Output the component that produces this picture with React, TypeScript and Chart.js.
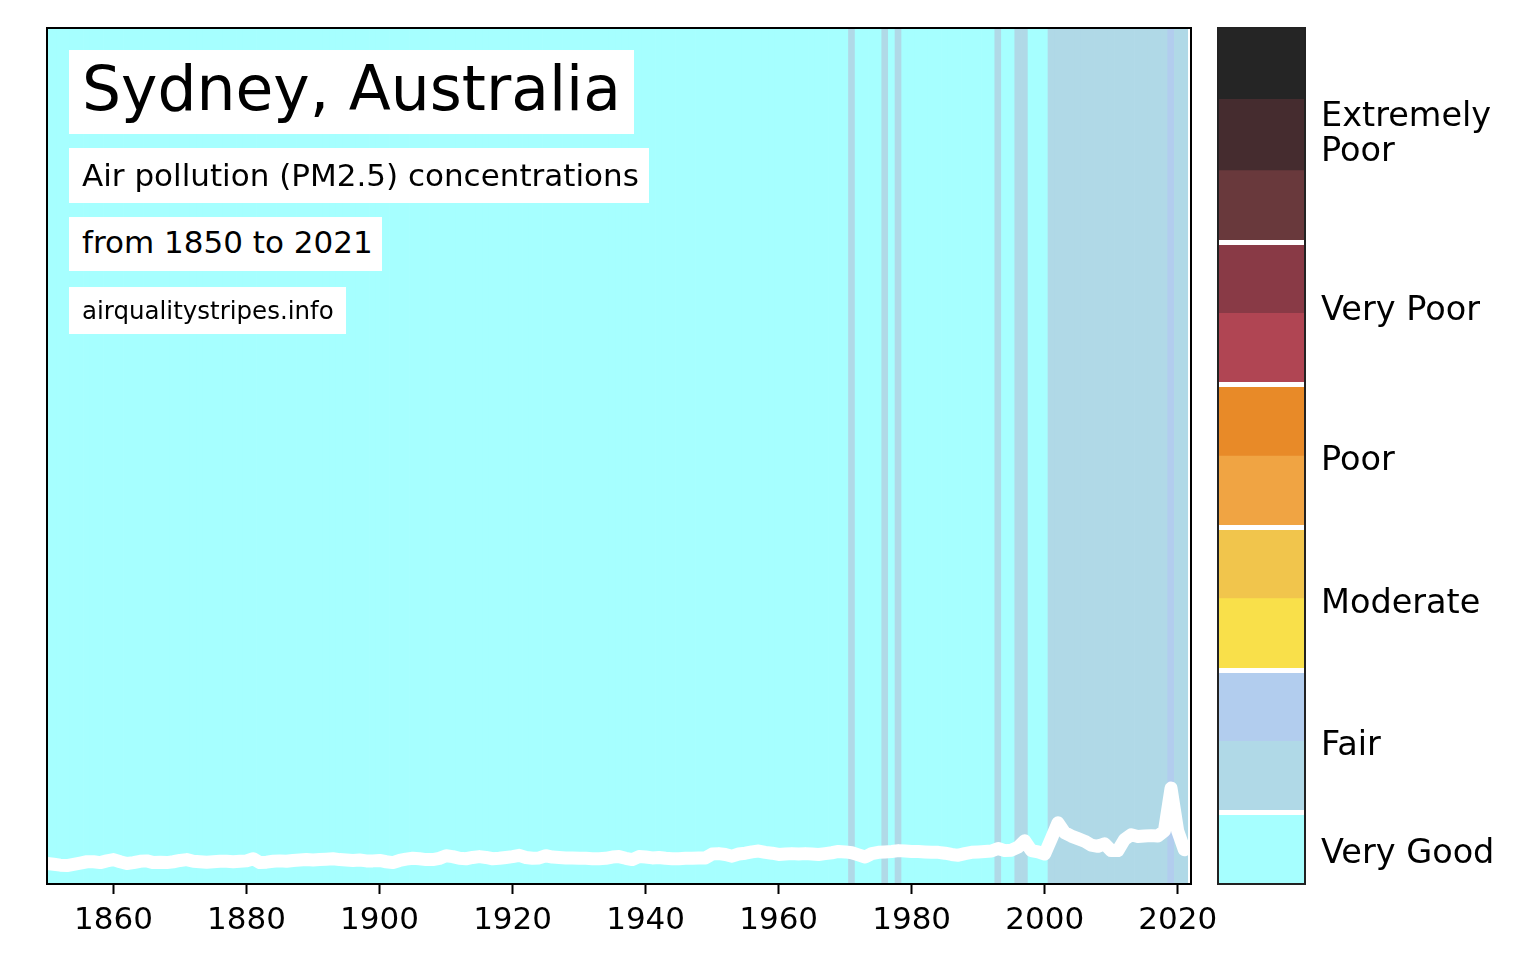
import React, { useEffect, useRef } from "react";
import { Chart, registerables } from "chart.js";

Chart.register(...registerables);

// ---------- data ----------
const FIRST_YEAR = 1850;

// Annual PM2.5 series, 1850 … 2021
const pm25: number[] = [
  // 1850s
  2.4, 2.3, 2.2, 2.15, 2.3, 2.45, 2.6, 2.6, 2.5, 2.7,
  // 1860s
  2.85, 2.6, 2.4, 2.5, 2.65, 2.7, 2.5, 2.55, 2.5, 2.6,
  // 1870s
  2.75, 2.85, 2.65, 2.6, 2.55, 2.6, 2.65, 2.65, 2.6, 2.65,
  // 1880s
  2.7, 2.95, 2.5, 2.55, 2.65, 2.7, 2.65, 2.75, 2.8, 2.85,
  // 1890s
  2.8, 2.85, 2.9, 2.95, 2.85, 2.8, 2.75, 2.8, 2.7, 2.7,
  // 1900s
  2.75, 2.6, 2.5, 2.75, 2.9, 3.0, 2.95, 2.85, 2.85, 3.0,
  // 1910s
  3.3, 3.2, 3.0, 2.95, 3.1, 3.2, 3.1, 2.95, 3.0, 3.1,
  // 1920s
  3.2, 3.35, 3.1, 3.0, 3.05, 3.3, 3.15, 3.1, 3.05, 3.05,
  // 1930s
  3.0, 3.0, 2.95, 2.95, 3.0, 3.15, 3.2, 3.0, 2.85, 3.2,
  // 1940s
  3.15, 3.05, 3.1, 3.0, 2.95, 2.95, 3.0, 3.0, 3.05, 3.05,
  // 1950s
  3.5, 3.55, 3.45, 3.25, 3.5, 3.6, 3.75, 3.85, 3.7, 3.6,
  // 1960s
  3.45, 3.5, 3.55, 3.5, 3.55, 3.5, 3.45, 3.55, 3.65, 3.8,
  // 1970s
  3.75, 3.65, 3.4, 3.15, 3.55, 3.7, 3.75, 3.8, 3.9, 3.85,
  // 1980s
  3.8, 3.8, 3.75, 3.7, 3.7, 3.6, 3.45, 3.35, 3.55, 3.7,
  // 1990s
  3.75, 3.8, 3.85, 4.15, 3.9, 3.95, 4.3, 5.05, 3.9, 3.75,
  // 2000s
  3.5, 5.3, 7.15, 6.0, 5.6, 5.3, 5.0, 4.55, 4.4, 4.7,
  // 2010s
  3.9, 3.9, 5.2, 5.75, 5.55, 5.6, 5.65, 5.6, 6.2, 11.2,
  // 2020s
  6.2, 4.0,
];

const years: number[] = pm25.map((_, i) => FIRST_YEAR + i);

// Stripe categories (everything else is "Very Good")
const fairLowYears: number[] = [
  1971, 1976, 1978, 1993, 1996, 1997,
  2001, 2002, 2003, 2004, 2005, 2006, 2007, 2008, 2009,
  2010, 2011, 2012, 2013, 2014, 2015, 2016, 2017, 2018,
  2020, 2021,
];
const fairHighYears: number[] = [2019];

const tickYears: number[] = [1860, 1880, 1900, 1920, 1940, 1960, 1980, 2000, 2020];

// Colour bar bands, bottom to top
const bandColors: string[] = [
  "#a6ffff", // Very Good
  "#b0d9e7", // Fair (low)
  "#b2cdee", // Fair (high)
  "#f9e04a", // Moderate (low)
  "#f1c54c", // Moderate (high)
  "#f0a443", // Poor (low)
  "#e88a28", // Poor (high)
  "#b04553", // Very Poor (low)
  "#893a46", // Very Poor (high)
  "#69393c", // Extremely Poor 1
  "#452c2f", // Extremely Poor 2
  "#252525", // Extremely Poor 3
];
const bandLabels: (string | string[])[] = [
  "Very Good",
  "Fair",
  "Moderate",
  "Poor",
  "Very Poor",
  ["Extremely", "Poor"],
];
const bandLabelPositions: number[] = [0.42, 1.93, 3.92, 5.93, 8.03, 10.5];
const groupBoundaries: number[] = [1, 3, 5, 7, 9];

const FONT = "'DejaVu Sans', 'Liberation Sans', sans-serif";

function stripeColor(year: number): string {
  if (fairHighYears.includes(year)) return bandColors[2];
  if (fairLowYears.includes(year)) return bandColors[1];
  return bandColors[0];
}

const framePlugin = {
  id: "frame",
  afterDraw(chart: any, _args: any, opts: any) {
    const { ctx, chartArea: a } = chart;
    ctx.save();
    ctx.strokeStyle = opts.color || "#000";
    ctx.lineWidth = opts.width || 2;
    ctx.strokeRect(a.left, a.top, a.right - a.left, a.bottom - a.top);
    ctx.restore();
  },
};

export default function App() {
  const mainRef = useRef<HTMLCanvasElement | null>(null);
  const barRef = useRef<HTMLCanvasElement | null>(null);

  useEffect(() => {
    if (!mainRef.current || !barRef.current) return;

    const main = new Chart(mainRef.current, {
      type: "bar",
      data: {
        datasets: [
          {
            type: "line",
            data: years.map((y, i) => ({ x: y, y: pm25[i] })),
            borderColor: "#ffffff",
            borderWidth: 13,
            pointRadius: 0,
            tension: 0,
            borderJoinStyle: "round",
            borderCapStyle: "round",
            xAxisID: "x",
            yAxisID: "y",
            clip: 0,
            order: 0,
          } as any,
          {
            type: "bar",
            data: years.map((y) => ({ x: y, y: 1 })),
            backgroundColor: years.map(stripeColor),
            borderWidth: 0,
            barPercentage: 1,
            categoryPercentage: 1,
            xAxisID: "x",
            yAxisID: "yStripe",
            order: 1,
          } as any,
        ],
      },
      options: {
        responsive: false,
        animation: false,
        events: [],
        layout: { padding: { left: 47, top: 28, right: 69, bottom: 0 } },
        plugins: {
          legend: { display: false },
          tooltip: { enabled: false },
          frame: { color: "#000", width: 2 },
        } as any,
        scales: {
          x: {
            type: "linear",
            min: 1850,
            max: 2022,
            offset: false,
            afterBuildTicks: (s: any) => {
              s.ticks = tickYears.map((v) => ({ value: v }));
            },
            afterFit: (s: any) => {
              s.height = 92;
            },
            grid: {
              display: true,
              drawOnChartArea: false,
              drawTicks: true,
              tickLength: 10,
              tickWidth: 2,
              tickColor: "#000",
              offset: false,
            },
            border: { display: false },
            ticks: {
              font: { family: FONT, size: 31 },
              color: "#000",
              padding: 8,
              maxRotation: 0,
              autoSkip: false,
              callback: (v: any) => String(v),
            },
          },
          y: { display: false, min: 0, max: 100 },
          yStripe: { display: false, min: 0, max: 1 },
        } as any,
      },
      plugins: [framePlugin],
    });

    const bar = new Chart(barRef.current, {
      type: "bar",
      data: {
        labels: ["band"],
        datasets: bandColors.map((c) => ({
          data: [1],
          backgroundColor: c,
          borderWidth: 0,
          barPercentage: 1,
          categoryPercentage: 1,
          stack: "s",
          yAxisID: "y",
        })),
      },
      options: {
        responsive: false,
        animation: false,
        events: [],
        layout: { padding: { left: 18, top: 28, right: 0, bottom: 92 } },
        plugins: {
          legend: { display: false },
          tooltip: { enabled: false },
          frame: { color: "#222", width: 2 },
        } as any,
        scales: {
          x: { display: false, stacked: true },
          y: {
            stacked: true,
            position: "right",
            min: 0,
            max: 12,
            afterBuildTicks: (s: any) => {
              s.ticks = bandLabelPositions.map((v) => ({ value: v }));
            },
            afterFit: (s: any) => {
              s.width = 230;
              s.paddingTop = 0;
              s.paddingBottom = 0;
            },
            grid: { display: false },
            border: { display: false },
            ticks: {
              autoSkip: false,
              padding: 8,
              color: "#000",
              font: { family: FONT, size: 33.5, lineHeight: 1.06 },
              callback: (_v: any, i: number) => bandLabels[i] as any,
            },
          },
          sep: {
            position: "right",
            min: 0,
            max: 12,
            afterBuildTicks: (s: any) => {
              s.ticks = groupBoundaries.map((v) => ({ value: v }));
            },
            afterFit: (s: any) => {
              s.width = 0;
              s.paddingTop = 0;
              s.paddingBottom = 0;
            },
            grid: { color: "#ffffff", lineWidth: 5, drawTicks: false, z: 1 },
            ticks: { display: false },
            border: { display: false },
          },
        } as any,
      },
      plugins: [framePlugin],
    });

    return () => {
      main.destroy();
      bar.destroy();
    };
  }, []);

  const box = (extra: React.CSSProperties): React.CSSProperties => ({
    position: "absolute",
    left: 69,
    background: "#ffffff",
    color: "#000",
    fontFamily: FONT,
    whiteSpace: "nowrap",
    boxSizing: "border-box",
    paddingLeft: 13,
    overflow: "hidden",
    ...extra,
  });

  return (
    <div style={{ position: "absolute", left: 0, top: 0, width: 1535, height: 976, background: "#fff", overflow: "hidden" }}>
      <div style={{ position: "absolute", left: 0, top: 0, width: 1260, height: 976 }}>
        <canvas ref={mainRef} width={1260} height={976} style={{ display: "block" }} />
      </div>
      <div style={{ position: "absolute", left: 1200, top: 0, width: 335, height: 976 }}>
        <canvas ref={barRef} width={335} height={976} style={{ display: "block" }} />
      </div>
      <div style={box({ top: 50, width: 565, height: 84, fontSize: 61.5, lineHeight: "79px" })}>Sydney, Australia</div>
      <div style={box({ top: 148, width: 580, height: 55, fontSize: 31, lineHeight: "54px" })}>
        Air pollution (PM2.5) concentrations
      </div>
      <div style={box({ top: 217, width: 313, height: 54, fontSize: 31, lineHeight: "50px" })}>from 1850 to 2021</div>
      <div style={box({ top: 287, width: 277, height: 47, fontSize: 24.5, lineHeight: "47px" })}>airqualitystripes.info</div>
    </div>
  );
}
